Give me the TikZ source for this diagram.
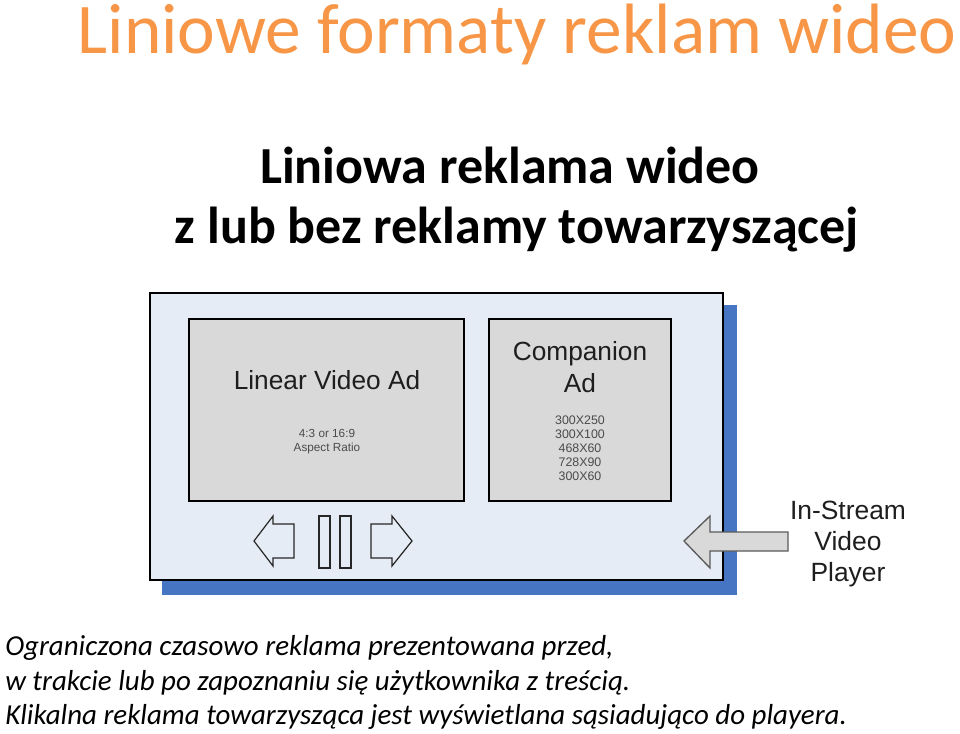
\documentclass[tikz,border=0pt]{standalone}
\usepackage{fontspec}
\setmainfont{Carlito}
\newfontfamily\arialf{Liberation Sans}
\definecolor{titleorange}{RGB}{247,150,70}
\definecolor{shadowblue}{RGB}{70,117,196}
\definecolor{playerbg}{RGB}{230,236,246}
\definecolor{adgray}{RGB}{217,217,217}
\definecolor{arrowedge}{RGB}{90,90,90}
\definecolor{labelgray}{RGB}{30,30,30}
\tikzset{
  adbox/.style={draw=black, fill=adgray, line width=1.5pt},
  ctrl/.style={draw=black!85, fill=playerbg, line width=0.9pt, line join=miter},
  biglabel/.style={font=\arialf\fontsize{19.7}{23}\selectfont, text=labelgray, align=center, inner sep=0pt},
  smalllabel/.style={font=\arialf\fontsize{8.8}{10.5}\selectfont, text=labelgray!80, align=center, inner sep=0pt},
  bodyline/.style={font=\fontsize{21.7}{24}\selectfont\itshape, anchor=base west, inner sep=0pt},
  subline/.style={font=\fontsize{39}{44}\selectfont\bfseries, anchor=base, inner sep=0pt},
}
\begin{document}
\begin{tikzpicture}[x=0.75pt,y=-0.75pt]
\useasboundingbox (0,0) rectangle (960,733);
% title
\node[font=\fontsize{53.5}{56}\selectfont, text=titleorange, anchor=base, inner sep=0pt] (title) at (517,53) {Liniowe formaty reklam wideo};
% subtitle
\node[subline] (sub1) at (510,183) {Liniowa reklama wideo};
\node[subline] (sub2) at (517,243) {z lub bez reklamy towarzyszącej};
% player
\fill[shadowblue] (162,305) rectangle (737,595);
\draw[fill=playerbg, line width=1.5pt] (150,293) rectangle (723,580);
\draw[adbox] (189,319) rectangle (464,501);
\draw[adbox] (489,319) rectangle (671,501);
\node[biglabel] (linear) at (327,380) {Linear Video Ad};
\node[smalllabel] (aspect) at (327,442) {4:3 or 16:9\\Aspect Ratio};
\node[biglabel] (companion) at (580,367) {Companion\\[0.5pt]Ad};
\node[smalllabel, font=\arialf\fontsize{9.3}{10.5}\selectfont] (sizes) at (580,448) {300X250\\300X100\\468X60\\728X90\\300X60};
% controls
\draw[ctrl] (254,541) -- (273,516) -- (273,524) -- (294,524) -- (294,558) -- (273,558) -- (273,566) -- cycle;
\draw[ctrl] (319,516) rectangle (330,568);
\draw[ctrl] (340,516) rectangle (351,568);
\draw[ctrl] (371,524) -- (392,524) -- (392,516) -- (412,541) -- (392,566) -- (392,558) -- (371,558) -- cycle;
% in-stream arrow
\draw[draw=arrowedge, fill=adgray, line width=1pt] (684,541) -- (710,516) -- (710,532) -- (788,532) -- (788,551) -- (710,551) -- (710,568) -- cycle;
\node[biglabel, font=\arialf\fontsize{19.8}{23.6}\selectfont] (player) at (848,544) {In-Stream\\Video\\Player};
% body text
\node[bodyline] (l1) at (5,655) {Ograniczona czasowo reklama prezentowana przed,};
\node[bodyline] (l2) at (5,690) {w trakcie lub po zapoznaniu się użytkownika z treścią.};
\node[bodyline] (l3) at (5,724) {Klikalna reklama towarzysząca jest wyświetlana sąsiadująco do playera.};
\end{tikzpicture}
\end{document}
